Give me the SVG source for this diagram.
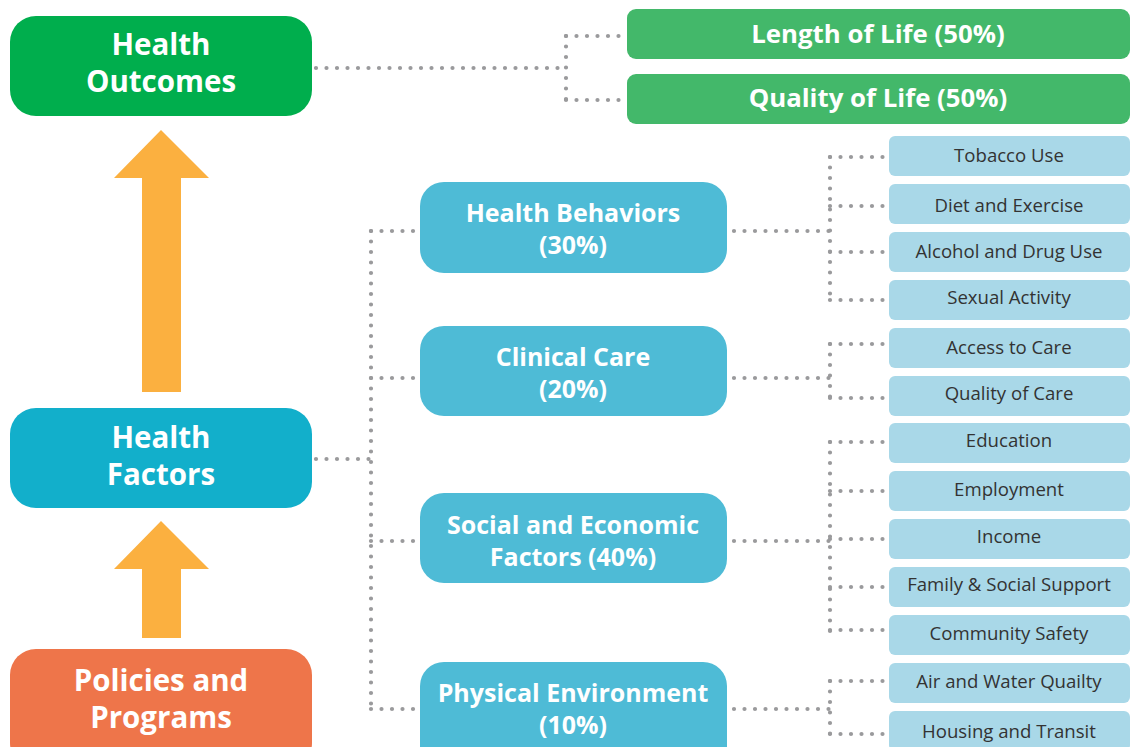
<svg xmlns="http://www.w3.org/2000/svg" width="1132" height="747" viewBox="0 0 1132 747">
<style>
.dot{fill:none;stroke:#9a9a9c;stroke-width:4.2;stroke-linecap:round;stroke-dasharray:0 10.5}
.big{font-family:"Open Sans",Lato,sans-serif;font-weight:bold;font-size:29.5px;fill:#fff;text-anchor:middle}
.mid{font-family:"Open Sans",Lato,sans-serif;font-weight:bold;font-size:25px;fill:#fff;text-anchor:middle}
.grt{font-family:"Open Sans",Lato,sans-serif;font-weight:bold;font-size:25.8px;fill:#fff;text-anchor:middle}
.sub{font-family:"Open Sans",Lato,sans-serif;font-size:18.6px;fill:#333;text-anchor:middle}
.subbox{fill:#a9d8e8}
.midbox{fill:#4ebbd6}
.grn{fill:#43b86a}
.arrow{fill:#fbb040}
</style>
<rect width="1132" height="747" fill="#fff"/>
<g id="connectors">
<path class="dot" d="M316,68 H566"/>
<path class="dot" d="M566,36 V100"/>
<path class="dot" d="M566,36 H619 M566,100 H619"/>
<path class="dot" d="M316,459 H371"/>
<path class="dot" d="M371,231 V709"/>
<path class="dot" d="M371,231 H414 M371,378 H414 M371,541 H414 M371,709 H414"/>
<path class="dot" d="M734,231 H830"/>
<path class="dot" d="M830,157 V300"/>
<path class="dot" d="M830,157 H884 M830,206 H884 M830,252 H884 M830,300 H884"/>
<path class="dot" d="M734,378 H830"/>
<path class="dot" d="M830,344 V398"/>
<path class="dot" d="M830,344 H884 M830,398 H884"/>
<path class="dot" d="M734,541 H830"/>
<path class="dot" d="M830,442 V634"/>
<path class="dot" d="M830,442 H884 M830,491 H884 M830,539 H884 M830,587 H884 M830,630 H884"/>
<path class="dot" d="M734,709 H830"/>
<path class="dot" d="M830,681 V734"/>
<path class="dot" d="M830,681 H884 M830,734 H884"/>
</g>
<g id="arrow1"><polygon class="arrow" points="161,130 209,178 181,178 181,392 142,392 142,178 114,178"/></g>
<g id="arrow2"><polygon class="arrow" points="161,521 209,569 181,569 181,638 142,638 142,569 114,569"/></g>
<g id="health-outcomes">
<rect x="10" y="16" width="302" height="100" rx="26" fill="#00ae4d"/>
<text class="big" x="161" y="55">Health</text>
<text class="big" x="161" y="92">Outcomes</text>
</g>
<g id="health-factors">
<rect x="10" y="408" width="302" height="100" rx="26" fill="#12afcb"/>
<text class="big" x="161" y="448">Health</text>
<text class="big" x="161" y="485">Factors</text>
</g>
<g id="policies">
<rect x="10" y="649" width="302" height="120" rx="26" fill="#ee754a"/>
<text class="big" x="161" y="691">Policies and</text>
<text class="big" x="161" y="728">Programs</text>
</g>
<g id="length-of-life">
<rect class="grn" x="627" y="9" width="503" height="50" rx="9"/>
<text class="grt" x="878" y="43">Length of Life (50%)</text>
</g>
<g id="quality-of-life">
<rect class="grn" x="627" y="74" width="503" height="50" rx="9"/>
<text class="grt" x="878" y="107">Quality of Life (50%)</text>
</g>
<g id="health-behaviors">
<rect class="midbox" x="420" y="182" width="307" height="91" rx="24"/>
<text class="mid" x="573" y="222">Health Behaviors</text>
<text class="mid" x="573" y="254">(30%)</text>
</g>
<g id="clinical-care">
<rect class="midbox" x="420" y="326" width="307" height="90" rx="24"/>
<text class="mid" x="573" y="366">Clinical Care</text>
<text class="mid" x="573" y="398">(20%)</text>
</g>
<g id="social-economic">
<rect class="midbox" x="420" y="493" width="307" height="90" rx="24"/>
<text class="mid" x="573" y="534">Social and Economic</text>
<text class="mid" x="573" y="566">Factors (40%)</text>
</g>
<g id="physical-environment">
<rect class="midbox" x="420" y="662" width="307" height="110" rx="24"/>
<text class="mid" x="573" y="702">Physical Environment</text>
<text class="mid" x="573" y="734">(10%)</text>
</g>
<g id="tobacco"><rect class="subbox" x="889" y="136" width="241" height="40" rx="6"/><text class="sub" x="1009" y="162">Tobacco Use</text></g>
<g id="diet"><rect class="subbox" x="889" y="184" width="241" height="40" rx="6"/><text class="sub" x="1009" y="212">Diet and Exercise</text></g>
<g id="alcohol"><rect class="subbox" x="889" y="232" width="241" height="40" rx="6"/><text class="sub" x="1009" y="258">Alcohol and Drug Use</text></g>
<g id="sexual"><rect class="subbox" x="889" y="280" width="241" height="40" rx="6"/><text class="sub" x="1009" y="304">Sexual Activity</text></g>
<g id="access"><rect class="subbox" x="889" y="328" width="241" height="40" rx="6"/><text class="sub" x="1009" y="354">Access to Care</text></g>
<g id="quality-care"><rect class="subbox" x="889" y="376" width="241" height="40" rx="6"/><text class="sub" x="1009" y="400">Quality of Care</text></g>
<g id="education"><rect class="subbox" x="889" y="423" width="241" height="40" rx="6"/><text class="sub" x="1009" y="447">Education</text></g>
<g id="employment"><rect class="subbox" x="889" y="471" width="241" height="40" rx="6"/><text class="sub" x="1009" y="496">Employment</text></g>
<g id="income"><rect class="subbox" x="889" y="519" width="241" height="40" rx="6"/><text class="sub" x="1009" y="543">Income</text></g>
<g id="family"><rect class="subbox" x="889" y="567" width="241" height="40" rx="6"/><text class="sub" x="1009" y="591">Family &amp; Social Support</text></g>
<g id="community"><rect class="subbox" x="889" y="615" width="241" height="40" rx="6"/><text class="sub" x="1009" y="640">Community Safety</text></g>
<g id="air-water"><rect class="subbox" x="889" y="663" width="241" height="40" rx="6"/><text class="sub" x="1009" y="688">Air and Water Quailty</text></g>
<g id="housing"><rect class="subbox" x="889" y="711" width="241" height="40" rx="6"/><text class="sub" x="1009" y="738">Housing and Transit</text></g>
</svg>
